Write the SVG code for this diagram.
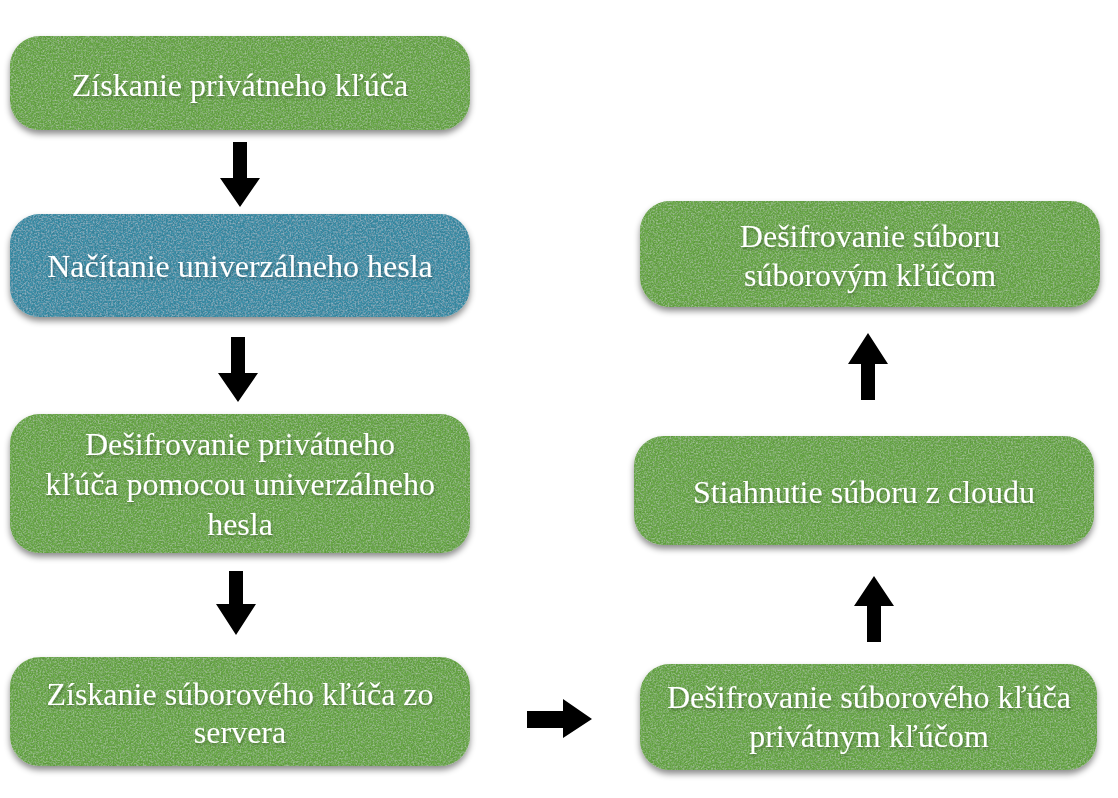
<svg xmlns="http://www.w3.org/2000/svg" width="1118" height="798" viewBox="0 0 1118 798">
<style>
.green{fill:#6cab4a}
.blue{fill:#3c91aa}
.lbl{font-family:"Liberation Serif","Times New Roman",serif;font-size:32px;fill:#ffffff;text-anchor:middle;filter:url(#tshadow)}
.arrow{fill:#000000}
</style>
<defs>
<filter id="box" x="-5%" y="-15%" width="110%" height="140%">
<feTurbulence type="fractalNoise" baseFrequency="0.6" numOctaves="2" seed="4" result="n"/>
<feColorMatrix in="n" type="matrix" values="0 0 0 0 0  0 0 0 0 0  0 0 0 0 0  0.6 0 0 0 -0.2" result="dark"/>
<feComposite in="dark" in2="SourceAlpha" operator="in" result="darkIn"/>
<feColorMatrix in="n" type="matrix" values="0 0 0 0 1  0 0 0 0 1  0 0 0 0 1  0 0.6 0 0 -0.26" result="light"/>
<feComposite in="light" in2="SourceAlpha" operator="in" result="lightIn"/>
<feGaussianBlur in="SourceAlpha" stdDeviation="3" result="b"/>
<feOffset in="b" dy="4" result="ob"/>
<feFlood flood-color="#000" flood-opacity="0.45"/>
<feComposite in2="ob" operator="in" result="shadow"/>
<feMerge>
<feMergeNode in="shadow"/>
<feMergeNode in="SourceGraphic"/>
<feMergeNode in="darkIn"/>
<feMergeNode in="lightIn"/>
</feMerge>
</filter>
<filter id="tshadow" x="-5%" y="-20%" width="110%" height="140%">
<feGaussianBlur in="SourceAlpha" stdDeviation="1.5" result="b"/>
<feOffset in="b" dx="1" dy="1.5" result="ob"/>
<feFlood flood-color="#000" flood-opacity="0.3"/>
<feComposite in2="ob" operator="in" result="s"/>
<feMerge><feMergeNode in="s"/><feMergeNode in="SourceGraphic"/></feMerge>
</filter>
</defs>
<rect width="1118" height="798" fill="#ffffff"/>

<g id="node1">
<rect class="green" x="10" y="36" width="460" height="94" rx="30" filter="url(#box)"/>
<text class="lbl" x="240" y="96">Získanie privátneho kľúča</text>
</g>
<g id="node2">
<rect class="blue" x="10" y="214" width="460" height="103" rx="30" filter="url(#box)"/>
<text class="lbl" x="240" y="277">Načítanie univerzálneho hesla</text>
</g>
<g id="node3">
<rect class="green" x="10" y="414" width="460" height="139" rx="30" filter="url(#box)"/>
<text class="lbl" x="240" y="455">Dešifrovanie privátneho</text>
<text class="lbl" x="240" y="495">kľúča pomocou univerzálneho</text>
<text class="lbl" x="240" y="535">hesla</text>
</g>
<g id="node4">
<rect class="green" x="10" y="657" width="460" height="109" rx="30" filter="url(#box)"/>
<text class="lbl" x="240" y="705">Získanie súborového kľúča zo</text>
<text class="lbl" x="240" y="743">servera</text>
</g>
<g id="node5">
<rect class="green" x="640" y="201" width="460" height="106" rx="30" filter="url(#box)"/>
<text class="lbl" x="870" y="247">Dešifrovanie súboru</text>
<text class="lbl" x="870" y="286">súborovým kľúčom</text>
</g>
<g id="node6">
<rect class="green" x="634" y="436" width="460" height="109" rx="30" filter="url(#box)"/>
<text class="lbl" x="864" y="503">Stiahnutie súboru z cloudu</text>
</g>
<g id="node7">
<rect class="green" x="640" y="664" width="457" height="106" rx="30" filter="url(#box)"/>
<text class="lbl" x="869" y="708">Dešifrovanie súborového kľúča</text>
<text class="lbl" x="869" y="747">privátnym kľúčom</text>
</g>

<g id="connectors">
<polygon class="arrow" points="233,142 247,142 247,178 260,178 240,207 220,178 233,178"/>
<polygon class="arrow" points="231,337 245,337 245,373 258,373 238,402 218,373 231,373"/>
<polygon class="arrow" points="229,571 243,571 243,604 256,604 236,635 216,604 229,604"/>
<polygon class="arrow" points="527,711 563,711 563,699 592,719 563,738 563,728 527,728"/>
<polygon class="arrow" points="874,576 894,606 881,606 881,642 867,642 867,606 854,606"/>
<polygon class="arrow" points="868,333 888,364 875,364 875,400 861,400 861,364 848,364"/>
</g>
</svg>
